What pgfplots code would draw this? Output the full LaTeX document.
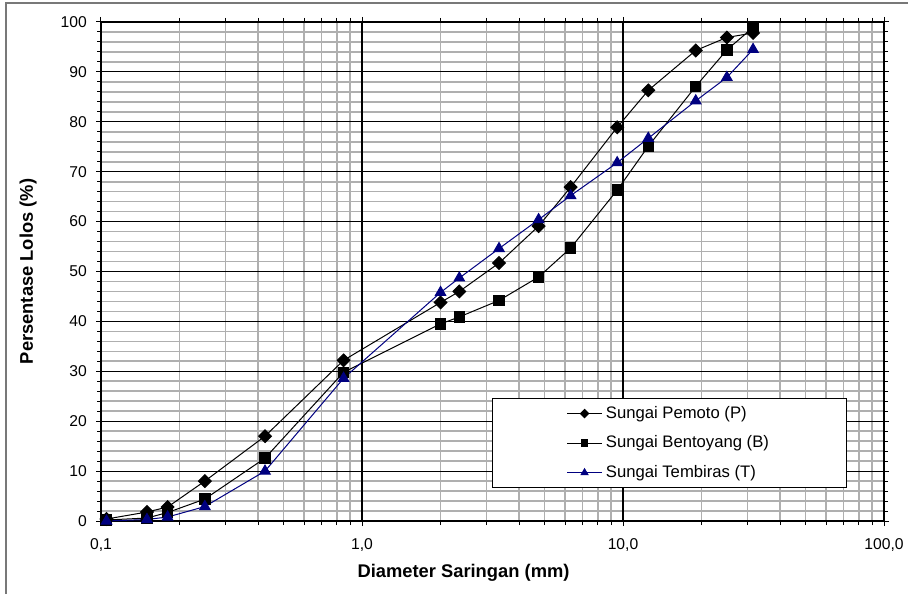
\documentclass[border=0pt]{standalone}
\usepackage{fontspec}
\setmainfont{Liberation Sans}
\usepackage{pgfplots}
\usepackage{pgfplotstable}
\pgfplotsset{compat=1.18}

\definecolor{navyblue}{RGB}{0,0,128}
\definecolor{gridgray}{RGB}{175,175,175}
\definecolor{framegray}{RGB}{120,120,120}

% diameter (mm) vs passing (%)
\pgfplotstableread{
d      P     B     T
0.105  0.4   0.2   0.0
0.15   1.8   0.6   0.3
0.18   2.8   1.7   0.8
0.25   8.0   4.4   2.9
0.425  17.0  12.6  10.0
0.85   32.2  29.8  28.6
2.0    43.8  39.5  45.8
2.36   46.0  40.9  48.7
3.35   51.7  44.2  54.6
4.75   59.1  48.9  60.4
6.3    66.9  54.7  65.2
9.5    78.9  66.3  71.8
12.5   86.3  75.1  76.7
19     94.3  87.1  84.2
25     96.9  94.4  88.9
31.5   97.8  98.9  94.5
}\ayakan

\begin{document}
\begin{tikzpicture}
\useasboundingbox (0,0) rectangle (544.8pt,356.4pt);
\draw[framegray, line width=0.9pt] (3.6pt,0) -- (3.6pt,354.6pt) -- (544.8pt,354.6pt);
\begin{axis}[
    at={(60.6pt,43.8pt)}, anchor=south west,
    scale only axis,
    width=469.8pt, height=299.4pt,
    xmode=log,
    xmin=0.1, xmax=100,
    ymin=0, ymax=100,
    clip=false,
    xtick={0.1,1,10,100},
    xticklabels={{0,1},{1,0},{10,0},{100,0}},
    minor xtick={0.2,0.3,0.4,0.5,0.6,0.7,0.8,0.9,2,3,4,5,6,7,8,9,20,30,40,50,60,70,80,90},
    ytick={0,10,...,100},
    minor ytick={2,4,6,8,12,14,16,18,22,24,26,28,32,34,36,38,42,44,46,48,52,54,56,58,62,64,66,68,72,74,76,78,82,84,86,88,92,94,96,98},
    xminorgrids=true, yminorgrids=true,
    xmajorgrids=false, ymajorgrids=true,
    major grid style={black, line width=0.7pt},
    minor grid style={gridgray, line width=1pt},
    axis line style={black, line width=0.8pt},
    tick style={black, line width=0.6pt},
    major tick length=3pt,
    minor tick length=2.4pt,
    tick align=outside,
    /pgf/number format/assume math mode=true,
    tick label style={font=\fontsize{9.4}{11}\selectfont},
    xticklabel style={yshift=-4pt},
    yticklabel style={xshift=-2pt},
    xlabel={\textbf{Diameter Saringan (mm)}},
    ylabel={\textbf{Persentase Lolos (\%)}},
    label style={font=\fontsize{11}{13}\selectfont},
    xlabel style={at={(axis description cs:0.463,-0.104)}, anchor=center},
    ylabel style={at={(axis description cs:-0.0932,0.5)}, anchor=center},
    legend style={
        at={(axis description cs:0.9527,0.0661)}, anchor=south east,
        font=\fontsize{10}{12}\selectfont,
        draw=black, line width=0.6pt, fill=white,
        inner xsep=44.5pt, inner ysep=2.5pt,
        row sep=5pt,
    },
    legend cell align=left,
    legend image code/.code={
        \draw[mark repeat=2, mark phase=2, #1, /tikz/every mark/.append style={scale=0.65}]
            plot coordinates {(0pt,0pt) (10.5pt,0pt) (21pt,0pt)};
    },
]
% major vertical grid lines, drawn above the minor grid
\draw[black, line width=0.7pt] (axis cs:1,0) -- (axis cs:1,100);
\draw[black, line width=0.7pt] (axis cs:10,0) -- (axis cs:10,100);
\addplot[black, line width=0.6pt, mark=square*, mark size=2.7pt,
    mark options={rotate=45, fill=black}] table[x=d, y=P] {\ayakan};
\addlegendentry{Sungai Pemoto (P)}
\addplot[black, line width=0.6pt, mark=square*, mark size=3.1pt,
    mark options={fill=black}] table[x=d, y=B] {\ayakan};
\addlegendentry{Sungai Bentoyang (B)}
\addplot[navyblue, line width=0.6pt, mark=triangle*, mark size=3.6pt,
    mark options={fill=navyblue}] table[x=d, y=T] {\ayakan};
\addlegendentry{Sungai Tembiras (T)}
\end{axis}
\end{tikzpicture}
\end{document}
